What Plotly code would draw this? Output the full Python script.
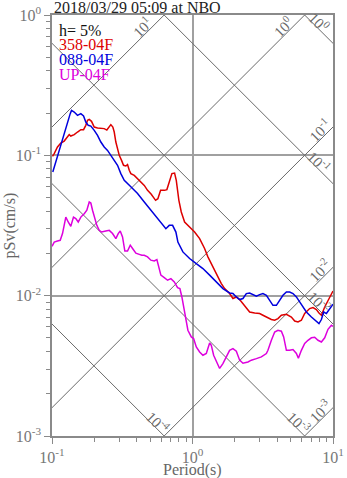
import math
import plotly.graph_objects as go

# ---- text ----
title_text = "2018/03/29 05:09 at NBO"
damping_text = "h= 5%"
x_title = "Period(s)"
y_title = "pSv(cm/s)"

# ---- axis ticks ----
x_tickvals = [0.1, 1, 10]
x_ticktext = ["10<sup>-1</sup>", "10<sup>0</sup>", "10<sup>1</sup>"]
y_tickvals = [0.001, 0.01, 0.1, 1]
y_ticktext = ["10<sup>-3</sup>", "10<sup>-2</sup>", "10<sup>-1</sup>", "10<sup>0</sup>"]

# ---- tripartite guide levels ----
sd_levels = [1e-4, 1e-3, 1e-2, 1e-1, 1]      # displacement (cm)
sa_levels = [1e-3, 1e-2, 1e-1, 1, 10]        # acceleration

# ---- response spectra: period (s) / pSv (cm/s) ----
ns_period = [0.1008, 0.1037, 0.1094, 0.1155, 0.1221, 0.1289, 0.1326, 0.1361, 0.1439, 0.1519,
             0.1604, 0.1677, 0.1740, 0.1790, 0.1841, 0.1911, 0.1998, 0.2109, 0.2227, 0.2353,
             0.2456, 0.2555, 0.2623, 0.2710, 0.2773, 0.2847, 0.2927, 0.3011, 0.3126, 0.3230,
             0.3354, 0.3448, 0.3547, 0.3642, 0.3850, 0.4064, 0.4291, 0.4537, 0.4787, 0.5087,
             0.5460, 0.5670, 0.5928, 0.6329, 0.6572, 0.6868, 0.7136, 0.7455, 0.7666, 0.8000,
             0.8320, 0.8785, 0.9535, 1.035, 1.124, 1.219, 1.287, 1.361, 1.437, 1.517,
             1.604, 1.693, 1.837, 1.940, 2.051, 2.165, 2.286, 2.416, 2.551, 2.769,
             3.006, 3.172, 3.355, 3.642, 3.845, 4.058, 4.291, 4.658, 5.054, 5.337,
             5.633, 5.956, 6.288, 6.823, 7.203, 7.616, 7.948, 8.268, 8.729, 9.213,
             9.741, 10.0]
ns_psv = [0.0984, 0.1028, 0.1146, 0.1224, 0.1264, 0.1350, 0.1404, 0.1372, 0.1404, 0.1466,
          0.1524, 0.1524, 0.1636, 0.1776, 0.1805, 0.1747, 0.1591, 0.1565, 0.1565, 0.1550,
          0.1514, 0.1591, 0.1655, 0.1591, 0.1466, 0.1244, 0.1085, 0.1000, 0.0921, 0.0849,
          0.0839, 0.0859, 0.0782, 0.0741, 0.0720, 0.0682, 0.0653, 0.0611, 0.0563, 0.0528,
          0.0478, 0.0491, 0.0563, 0.0563, 0.0570, 0.0645, 0.0741, 0.0748, 0.0664, 0.0478,
          0.0395, 0.0335, 0.0309, 0.0284, 0.0255, 0.0217, 0.0189, 0.0169, 0.0152, 0.0136,
          0.0122, 0.01123, 0.01035, 0.00954, 0.00979, 0.00938, 0.00878, 0.00809, 0.00765, 0.00753,
          0.00746, 0.00725, 0.00705, 0.00676, 0.00668, 0.00687, 0.00725, 0.00737, 0.00705, 0.00660,
          0.00650, 0.00668, 0.00746, 0.00809, 0.00823, 0.00796, 0.00753, 0.00725, 0.00831, 0.00927,
          0.01035, 0.0108]

ew_period = [0.1013, 0.1047, 0.1094, 0.1155, 0.1221, 0.1289, 0.1348, 0.1377, 0.1439, 0.1519,
             0.1604, 0.1677, 0.1740, 0.1811, 0.1890, 0.1998, 0.2109, 0.2227, 0.2353, 0.2484,
             0.2623, 0.2773, 0.2927, 0.3090, 0.3267, 0.3448, 0.3642, 0.3850, 0.4064, 0.4537,
             0.5056, 0.5641, 0.6124, 0.6463, 0.6834, 0.7217, 0.7619, 0.7871, 0.8543, 0.9535,
             1.064, 1.186, 1.324, 1.477, 1.646, 1.837, 1.940, 2.051, 2.165, 2.286,
             2.416, 2.551, 2.693, 2.848, 3.006, 3.172, 3.355, 3.540, 3.737, 3.954,
             4.173, 4.405, 4.658, 4.916, 5.190, 5.488, 5.792, 6.113, 6.464, 7.019,
             7.408, 7.948, 8.268, 8.587, 8.974, 9.474, 10.0]
ew_psv = [0.0760, 0.0849, 0.1000, 0.1211, 0.1466, 0.1727, 0.1982, 0.2092, 0.2035, 0.1927,
          0.1982, 0.1905, 0.1727, 0.1636, 0.1617, 0.1507, 0.1388, 0.1244, 0.1146, 0.1085,
          0.1000, 0.0921, 0.0849, 0.0741, 0.0664, 0.0629, 0.0595, 0.0563, 0.0534, 0.0465,
          0.0406, 0.0354, 0.0317, 0.0300, 0.0317, 0.0317, 0.0284, 0.0241, 0.0205, 0.0184,
          0.0169, 0.0156, 0.0140, 0.01252, 0.01123, 0.01045, 0.01035, 0.00979, 0.00938, 0.00954,
          0.01035, 0.01045, 0.01018, 0.00990, 0.01018, 0.01035, 0.01007, 0.00927, 0.00854, 0.00854,
          0.00927, 0.01007, 0.01062, 0.01062, 0.01035, 0.00979, 0.00902, 0.00831, 0.00765, 0.00705,
          0.00668, 0.00633, 0.00676, 0.00765, 0.00746, 0.00809, 0.00869]

ud_period = [0.1000, 0.1037, 0.1094, 0.1144, 0.1188, 0.1254, 0.1304, 0.1361, 0.1422, 0.1477,
             0.1537, 0.1604, 0.1696, 0.1770, 0.1841, 0.1890, 0.1943, 0.2018, 0.2085, 0.2169,
             0.2253, 0.2416, 0.2555, 0.2698, 0.2847, 0.2961, 0.3060, 0.3177, 0.3300, 0.3448,
             0.3606, 0.3745, 0.3953, 0.4179, 0.4362, 0.4537, 0.4787, 0.5056, 0.5344, 0.5578,
             0.5800, 0.5955, 0.6297, 0.6647, 0.7019, 0.7420, 0.7830, 0.8133, 0.8403, 0.8642,
             0.8931, 0.9274, 0.9806, 1.018, 1.064, 1.124, 1.186, 1.254, 1.324, 1.361,
             1.414, 1.477, 1.560, 1.646, 1.741, 1.837, 1.940, 2.051, 2.165, 2.286,
             2.481, 2.623, 2.848, 3.090, 3.355, 3.443, 3.642, 3.845, 4.058, 4.291,
             4.455, 4.658, 4.916, 5.190, 5.488, 5.670, 5.956, 6.288, 6.636, 7.019,
             7.408, 7.820, 8.268, 8.729, 9.213, 9.741, 10.0]
ud_psv = [0.02248, 0.0241, 0.0245, 0.0248, 0.0277, 0.0363, 0.0335, 0.0312, 0.0363, 0.0354,
          0.0335, 0.0363, 0.0384, 0.0406, 0.0465, 0.0457, 0.0406, 0.0354, 0.0317, 0.0292,
          0.0284, 0.0289, 0.0292, 0.0277, 0.0255, 0.0277, 0.0289, 0.0262, 0.0208, 0.0208,
          0.0229, 0.0217, 0.0201, 0.0197, 0.0194, 0.0194, 0.0189, 0.0179, 0.0177, 0.0181,
          0.0159, 0.0140, 0.01345, 0.01288, 0.01323, 0.01252, 0.01142, 0.01123, 0.00979, 0.00831,
          0.00668, 0.00567, 0.00508, 0.00495, 0.00431, 0.00397, 0.00376, 0.00387, 0.00460, 0.00443,
          0.00376, 0.00337, 0.00303, 0.00328, 0.00366, 0.00408, 0.00420, 0.00402, 0.00347, 0.00330,
          0.00337, 0.00347, 0.00356, 0.00366, 0.00387, 0.00408, 0.00481, 0.00551, 0.00567, 0.00558,
          0.00508, 0.00408, 0.00408, 0.00413, 0.00387, 0.00358, 0.00408, 0.00456, 0.00481, 0.00501,
          0.00505, 0.00481, 0.00468, 0.00501, 0.00576, 0.00615, 0.00605]

series = [
    ("358-04F", ns_period, ns_psv, "#dd0000"),
    ("088-04F", ew_period, ew_psv, "#0000dd"),
    ("UP-04F", ud_period, ud_psv, "#dd00dd"),
]

SERIF = "Liberation Serif"
GUIDE = "#6a6a6a"
LOG2PI = math.log10(2 * math.pi)
X_LOG = (-1.0, 1.0)
Y_LOG = (-3.0, 0.0)

fig = go.Figure()
annotations = []


def exp_label(v):
    return "10<sup>%d</sup>" % round(math.log10(v))


# constant-displacement lines: SV = 2*pi*SD/T
for sd in sd_levels:
    t = [0.01, 100.0]
    fig.add_trace(go.Scatter(x=t, y=[2 * math.pi * sd / ti for ti in t], mode="lines",
                             line=dict(color=GUIDE, width=1), hoverinfo="skip", showlegend=False))
    ls = math.log10(sd)
    y_right = LOG2PI + ls - X_LOG[1]
    if y_right >= Y_LOG[0]:
        ex, ey, a = X_LOG[1], y_right, 0.125
    else:
        ex, ey, a = LOG2PI + ls - Y_LOG[0], Y_LOG[0], 0.072
    annotations.append(dict(x=ex - a, y=ey + a, xref="x", yref="y", text=exp_label(sd),
                            showarrow=False, textangle=45, xshift=4, yshift=4,
                            font=dict(family=SERIF, size=15, color=GUIDE)))

# constant-acceleration lines: SV = SA*T/(2*pi)
for sa in sa_levels:
    t = [0.01, 100.0]
    fig.add_trace(go.Scatter(x=t, y=[sa * ti / (2 * math.pi) for ti in t], mode="lines",
                             line=dict(color=GUIDE, width=1), hoverinfo="skip", showlegend=False))
    la = math.log10(sa)
    y_right = la + X_LOG[1] - LOG2PI
    if y_right <= Y_LOG[1]:
        ex, ey, a = X_LOG[1], y_right, 0.058
    else:
        ex, ey, a = LOG2PI - la + Y_LOG[1], Y_LOG[1], 0.121
    annotations.append(dict(x=ex - a, y=ey - a, xref="x", yref="y", text=exp_label(sa),
                            showarrow=False, textangle=-45, xshift=-5, yshift=5,
                            font=dict(family=SERIF, size=15, color=GUIDE)))

# spectra
for name, per, psv, col in series:
    fig.add_trace(go.Scatter(x=per, y=psv, mode="lines", name=name,
                             line=dict(color=col, width=1.5), showlegend=False))

# in-plot key
key_rows = [(damping_text, "#111111")] + [(s[0], s[3]) for s in series]
for i, (txt, col) in enumerate(key_rows):
    annotations.append(dict(x=0.018, y=0.964 - i * 0.0348, xref="paper", yref="paper",
                            xanchor="left", yanchor="middle", text=txt, showarrow=False,
                            font=dict(family=SERIF, size=16, color=col)))

annotations.append(dict(x=0, y=1, xref="paper", yref="paper", xanchor="left",
                        yanchor="bottom", text=title_text, showarrow=False, yshift=-3,
                        font=dict(family=SERIF, size=16, color="#222222")))
annotations.append(dict(x=0.5, y=-0.08, xref="paper", yref="paper", xanchor="center",
                        yanchor="middle", text=x_title, showarrow=False,
                        font=dict(family=SERIF, size=16, color="#666666")))
annotations.append(dict(x=-0.153, y=0.5, xref="paper", yref="paper", xanchor="center",
                        yanchor="middle", text=y_title, showarrow=False, textangle=-90,
                        font=dict(family=SERIF, size=16, color="#666666")))

axis_common = dict(
    type="log", showgrid=True, gridcolor="#a0a0a0", gridwidth=1.5,
    showline=True, mirror=True, linecolor="#8a8a8a", linewidth=1.5,
    ticks="outside", ticklen=6, tickcolor="#8a8a8a", tickwidth=1, zeroline=False,
    tickmode="array", automargin=False,
    tickfont=dict(family=SERIF, size=16, color="#777777"),
    minor=dict(ticks="outside", ticklen=4, tickcolor="#8a8a8a", dtick="D1", showgrid=False),
)

fig.update_layout(
    width=347, height=478, autosize=False,
    margin=dict(l=52, r=14, t=15, b=42),
    paper_bgcolor="white", plot_bgcolor="white",
    xaxis=dict(axis_common, range=list(X_LOG), tickvals=x_tickvals, ticktext=x_ticktext),
    yaxis=dict(axis_common, range=list(Y_LOG), tickvals=y_tickvals, ticktext=y_ticktext),
    annotations=annotations,
    showlegend=False,
)

fig.write_html("out.html")
